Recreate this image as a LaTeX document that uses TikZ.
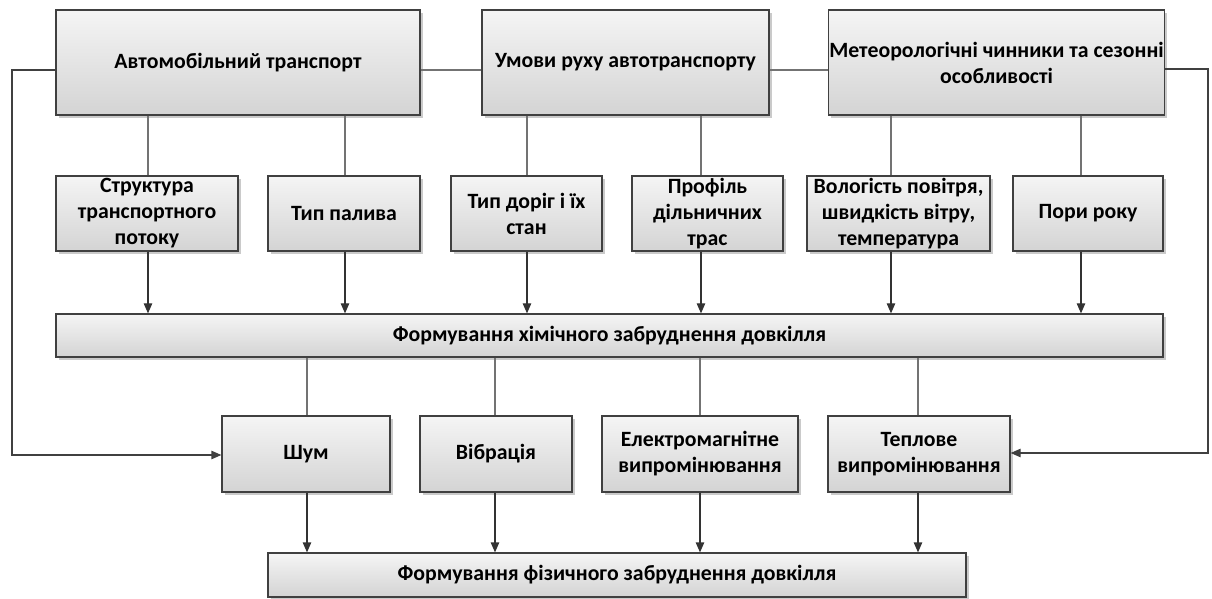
\documentclass[tikz,border=0pt]{standalone}
\usepackage{fontspec}
\setmainfont{Carlito}
\usetikzlibrary{arrows.meta,shadows}
\begin{document}
\begin{tikzpicture}[x=0.5pt,y=-0.5pt,
  box/.style={draw=black!75, line width=0.6pt, top color=white!96!black, bottom color=black!17,
    drop shadow={shadow xshift=1.3pt, shadow yshift=-1.3pt, fill=black!35, opacity=0.6},
    align=center, inner sep=0.5pt, font=\fontsize{10.9pt}{13pt}\selectfont\bfseries},
  link/.style={draw=black!55, line width=0.6pt},
  arr/.style={draw=black!80, line width=0.6pt, -{Triangle[length=5pt,width=4.2pt]}},
  fb/.style={draw=black!75, line width=0.6pt}]
\useasboundingbox (0,0) rectangle (1212,599);
% top row
\node[box, minimum width=182pt, minimum height=52.5pt] (A) at (238,62.5) {Автомобільний транспорт};
\node[box, minimum width=143.5pt, minimum height=52.5pt] (B) at (625.5,62.5) {Умови руху автотранспорту};
\node[box, minimum width=166.5pt, minimum height=52.5pt] (C) at (996.5,62.5) {Метеорологічні чинники та сезонні\\особливості};
% second row
\node[box, minimum width=91pt, minimum height=37.5pt] (s1) at (147,213.5) {Структура\\транспортного\\потоку};
\node[box, minimum width=76pt, minimum height=37.5pt] (s2) at (344,213.5) {Тип палива};
\node[box, minimum width=75.5pt, minimum height=37.5pt] (s3) at (526.5,213.5) {Тип доріг і їх\\стан};
\node[box, minimum width=75.5pt, minimum height=37.5pt] (s4) at (707.5,213.5) {Профіль\\дільничних\\трас};
\node[box, minimum width=91.5pt, minimum height=37.5pt] (s5) at (898.5,213.5) {Вологість повітря,\\швидкість вітру,\\температура};
\node[box, minimum width=75pt, minimum height=37.5pt] (s6) at (1088,213.5) {Пори року};
% chemical
\node[box, minimum width=553.5pt, minimum height=21.5pt] (chem) at (609.5,335.5) {Формування хімічного забруднення довкілля};
% third row
\node[box, minimum width=84pt, minimum height=38pt] (t1) at (306,454) {Шум};
\node[box, minimum width=76pt, minimum height=38pt] (t2) at (496,454) {Вібрація};
\node[box, minimum width=98pt, minimum height=38pt] (t3) at (700,454) {Електромагнітне\\випромінювання};
\node[box, minimum width=91pt, minimum height=38pt] (t4) at (919,454) {Теплове\\випромінювання};
% physical
\node[box, minimum width=349pt, minimum height=22pt] (phys) at (617,575) {Формування фізичного забруднення довкілля};

% top horizontal links
\draw[link] (A.east |- 0,70) -- (B.west |- 0,70);
\draw[link] (B.east |- 0,70) -- (C.west |- 0,70);
% top to second row
\draw[link] (A.south -| 148,0) -- (s1.north -| 148,0);
\draw[link] (A.south -| 345,0) -- (s2.north -| 345,0);
\draw[link] (B.south -| 527,0) -- (s3.north -| 527,0);
\draw[link] (B.south -| 701,0) -- (s4.north -| 701,0);
\draw[link] (C.south -| 891,0) -- (s5.north -| 891,0);
\draw[link] (C.south -| 1081,0) -- (s6.north -| 1081,0);
% second row to chem
\draw[arr] (s1.south -| 148,0) -- (chem.north -| 148,0);
\draw[arr] (s2.south -| 345,0) -- (chem.north -| 345,0);
\draw[arr] (s3.south -| 527,0) -- (chem.north -| 527,0);
\draw[arr] (s4.south -| 701,0) -- (chem.north -| 701,0);
\draw[arr] (s5.south -| 891,0) -- (chem.north -| 891,0);
\draw[arr] (s6.south -| 1081,0) -- (chem.north -| 1081,0);
% chem to third row
\draw[link] (chem.south -| 307,0) -- (t1.north -| 307,0);
\draw[link] (chem.south -| 495,0) -- (t2.north -| 495,0);
\draw[link] (chem.south -| 700,0) -- (t3.north -| 700,0);
\draw[link] (chem.south -| 918,0) -- (t4.north -| 918,0);
% third row to physical
\draw[arr] (t1.south -| 307,0) -- (phys.north -| 307,0);
\draw[arr] (t2.south -| 495,0) -- (phys.north -| 495,0);
\draw[arr] (t3.south -| 700,0) -- (phys.north -| 700,0);
\draw[arr] (t4.south -| 918,0) -- (phys.north -| 918,0);
% feedback lines
\draw[fb, -{Triangle[length=5pt,width=4.2pt]}] (A.west |- 0,70) -- (12,70) -- (12,455) -- (t1.west |- 0,455);
\draw[fb, -{Triangle[length=5pt,width=4.2pt]}] (C.east |- 0,69) -- (1208,69) -- (1208,453) -- (t4.east |- 0,453);
\end{tikzpicture}
\end{document}
